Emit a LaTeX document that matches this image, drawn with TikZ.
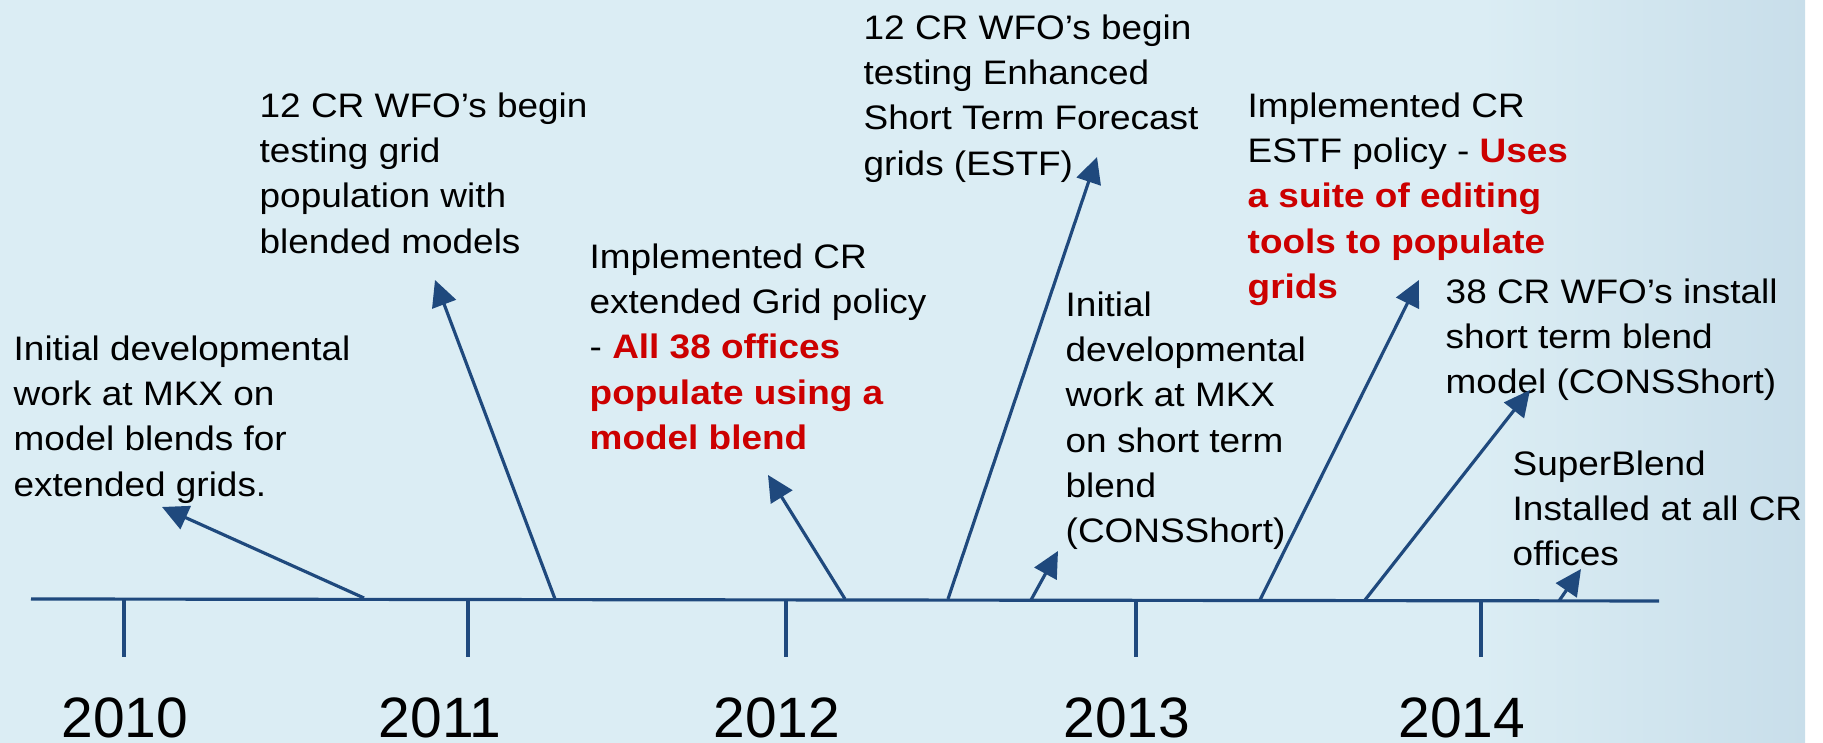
\documentclass[tikz,border=0pt]{standalone}
\usepackage{fontspec}
\setmainfont{Liberation Sans}[FakeStretch=1.087]
\newfontfamily\yearfont{Liberation Sans}
\usetikzlibrary{arrows.meta}

\definecolor{bgblue}{HTML}{DBEDF4}
\definecolor{edgeblue}{HTML}{C8DEEA}
\definecolor{lineblue}{HTML}{1F497D}
\definecolor{hired}{HTML}{CC0000}
\newcommand{\hi}[1]{\textcolor{hired}{\bfseries #1}}

\begin{document}
\begin{tikzpicture}[
        note/.style={anchor=north west, inner sep=0pt, align=left,
            font=\fontsize{9.67}{12.89}\selectfont},
        year/.style={anchor=base, inner sep=0pt,
            font=\yearfont\fontsize{16.2}{19}\selectfont},
        tick/.style={lineblue, line width=0.9pt},
        evt/.style={lineblue, line width=0.9pt,
            -{Triangle[length=0.26cm, width=0.25cm]}}
    ]
    \useasboundingbox (0,0) rectangle (18.23,7.43);
    \fill[bgblue] (0,0) rectangle (18.05,7.43);
    \shade[left color=bgblue, right color=edgeblue] (14.8,0) rectangle (18.05,7.43);

    % time line and year ticks
    \draw[tick] (0.31,1.44) -- (16.59,1.42);
    \draw[tick] (1.24,1.44) -- (1.24,0.86);
    \draw[tick] (4.68,1.44) -- (4.68,0.86);
    \draw[tick] (7.86,1.44) -- (7.86,0.86);
    \draw[tick] (11.36,1.43) -- (11.36,0.86);
    \draw[tick] (14.81,1.43) -- (14.81,0.86);

    \node[year] (y2010) at (1.25,0.05) {2010};
    \node[year] (y2011) at (4.40,0.05) {2011};
    \node[year] (y2012) at (7.77,0.05) {2012};
    \node[year] (y2013) at (11.27,0.05) {2013};
    \node[year] (y2014) at (14.62,0.05) {2014};

    % events
    \node[note] (mkx) at (0.13,4.08) {Initial developmental\\work at MKX on\\model blends for\\extended grids.};
    \node[note] (wfotest) at (2.59,6.51) {12 CR WFO’s begin\\testing grid\\population with\\blended models};
    \node[note] (gridpol) at (5.89,5.00) {Implemented CR\\extended Grid policy\\- \hi{All 38 offices}\\\hi{populate using a}\\\hi{model blend}};
    \node[note] (estf) at (8.63,7.29) {12 CR WFO’s begin\\testing Enhanced\\Short Term Forecast\\grids (ESTF)};
    \node[note] (mkxshort) at (10.65,4.52) {Initial\\developmental\\work at MKX\\on short term\\blend\\(CONSShort)};
    \node[note] (estfpol) at (12.47,6.51) {Implemented CR\\ESTF policy - \hi{Uses}\\\hi{a suite of editing}\\\hi{tools to populate}\\\hi{grids}};
    \node[note] (install) at (14.45,4.65) {38 CR WFO’s install\\short term blend\\model (CONSShort)};
    \node[note] (superblend) at (15.12,2.93) {SuperBlend\\Installed at all CR\\offices};

    % arrows from the time line up to each event
    \coordinate (s1) at (3.64,1.45);  \coordinate (t1) at (1.62,2.36);
    \coordinate (s2) at (5.55,1.44);  \coordinate (t2) at (4.35,4.63);
    \coordinate (s3) at (8.45,1.44);  \coordinate (t3) at (7.68,2.68);
    \coordinate (s4) at (9.48,1.44);  \coordinate (t4) at (10.97,5.86);
    \coordinate (s5) at (10.31,1.43); \coordinate (t5) at (10.58,1.92);
    \coordinate (s6) at (12.60,1.43); \coordinate (t6) at (14.19,4.63);
    \coordinate (s7) at (13.65,1.43); \coordinate (t7) at (15.30,3.53);
    \coordinate (s8) at (15.59,1.42); \coordinate (t8) at (15.81,1.74);

    \draw[evt] (s1) -- (t1);
    \draw[evt] (s2) -- (t2);
    \draw[evt] (s3) -- (t3);
    \draw[evt] (s4) -- (t4);
    \draw[evt] (s5) -- (t5);
    \draw[evt] (s6) -- (t6);
    \draw[evt] (s7) -- (t7);
    \draw[evt] (s8) -- (t8);
\end{tikzpicture}
\end{document}
